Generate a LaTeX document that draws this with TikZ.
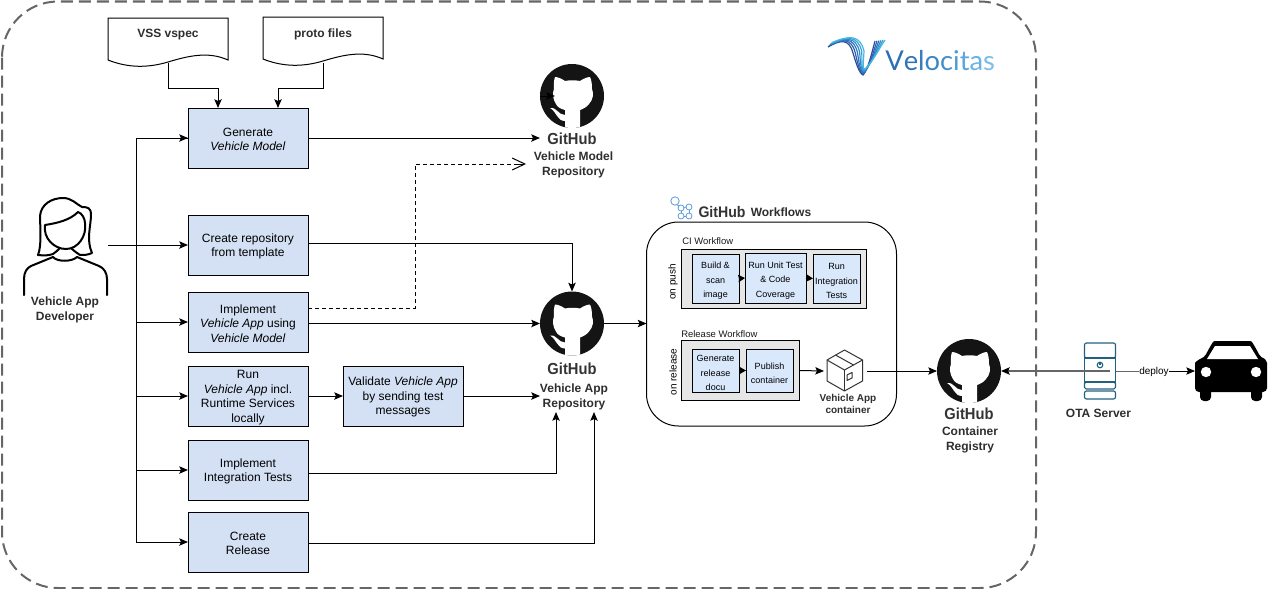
\documentclass[tikz,border=0pt]{standalone}
\usepackage{fontspec}
\setmainfont{Liberation Sans}
\usetikzlibrary{arrows.meta,calc}
\definecolor{boxA}{HTML}{D4E1F5}
\definecolor{boxB}{HTML}{DAE8FC}
\definecolor{grayB}{HTML}{E6E6E6}
\definecolor{edge}{HTML}{666666}
\definecolor{teal}{HTML}{23607F}
\definecolor{wfblue}{HTML}{5C9BD9}
\newcommand{\fl}{\rule{0pt}{8.5pt}}
\newcommand{\flm}{\rule{0pt}{8.8pt}}
\tikzset{
  x=0.75pt,y=-0.75pt,
  arr/.style={-{Stealth[length=6.5pt,width=5.5pt,inset=1.2pt]},line width=0.75pt,black},
  step box/.style={draw=black,line width=0.75pt,fill=boxA,minimum width=90pt,minimum height=45pt,inner sep=0pt,outer sep=0pt,align=center,font=\fontsize{9}{10.9}\selectfont},
  mini box/.style={draw=black,line width=0.75pt,fill=boxB,inner sep=0pt,outer sep=0pt,align=center,font=\fontsize{6.75}{10.9}\selectfont},
  group box/.style={draw=black,line width=0.75pt,fill=grayB,inner sep=0pt,outer sep=0pt},
  big label/.style={align=center,font=\fontsize{9}{11}\bfseries\selectfont,inner sep=0pt,text=black!82},
  small label/.style={align=center,font=\fontsize{7.5}{9.2}\bfseries\selectfont,inner sep=0pt,text=black!82},
  plain small/.style={align=center,font=\fontsize{7.5}{9}\selectfont,inner sep=0pt},
  wf title/.style={anchor=west,inner sep=0pt,font=\fontsize{7.1}{9}\selectfont,text=black!90},
  gh word/.style={inner sep=0pt,font=\fontsize{12}{12}\bfseries\selectfont,text=black!80},
  doc base/.style={minimum width=90pt,minimum height=34pt,inner sep=0pt,outer sep=0pt},
  ghcircle/.style={circle,fill=black!92,minimum size=48pt,inner sep=0pt,outer sep=0pt},
}
\newcommand{\ghlogo}[3]{%
  \node[ghcircle] (#1) at (#2,#3) {};
  \begin{scope}[shift={(#2,#3)}]
    \clip (0,0) circle[radius=32];
    \fill[white] (-7,34) -- (-7,14) .. controls (-11,13) and (-15,11) .. (-16,8)
      .. controls (-19,4) and (-20,-3) .. (-18,-7) .. controls (-18.5,-12) and (-18,-16) .. (-17,-19)
      .. controls (-14,-19) and (-10,-17) .. (-7,-15) .. controls (-2,-16) and (3,-16) .. (8,-15)
      .. controls (11,-17) and (15,-19) .. (18,-19) .. controls (19.5,-16) and (20,-12) .. (20,-7)
      .. controls (22,-3) and (21,4) .. (17,8) .. controls (15,11) and (11,13) .. (8,14) -- (8,34) -- cycle;
    \fill[white] (-22,12) .. controls (-15,11) and (-14,19) .. (-7,19) -- (-7,25)
      .. controls (-15,25) and (-15,16) .. (-22,12) -- cycle;
  \end{scope}
}
\newcommand{\ghword}[3]{\node[gh word] (#1) at (#2,#3) {\scalebox{.92}[1]{GitHub}};}
\newcommand{\docshape}[2]{%
  \begin{scope}[shift={(#1,#2)}]
  \draw[line width=0.75pt,fill=white] (0,0) -- (120,0) -- (120,42)
    .. controls (100,33) and (80,38) .. (60,44)
    .. controls (40,50) and (20,50) .. (0,42) -- cycle;
  \end{scope}
}
\begin{document}
\begin{tikzpicture}
\useasboundingbox (0,0) rectangle (1268,589);
% outer dashed frame
\draw[edge,line width=1.5pt,dash pattern=on 9pt off 4.5pt,rounded corners=42pt] (2,1.5) rectangle (1036,588);

% documents
\docshape{108}{18}
\docshape{263}{17}
\node[doc base] (vss) at (168,40.5) {};
\node[doc base] (proto) at (323,40) {};
\node[big label] (vsst) at (168,35) {VSS vspec};
\node[big label] (protot) at (323,34) {proto files};

% step boxes
\node[step box] (gen)   at (248,138) {\fl Generate\\\textit{Vehicle Model}};
\node[step box] (repo)  at (248,245) {\fl Create repository\\from template};
\node[step box] (impl)  at (248,322) {\fl Implement\\\textit{Vehicle App} using\\\textit{Vehicle Model}};
\node[step box] (runl)  at (248,396) {\fl Run\\\textit{Vehicle App} incl.\\Runtime Services\\locally};
\node[step box] (valid) at (403,396) {\fl Validate \textit{Vehicle App}\\by sending test\\messages};
\node[step box] (intg)  at (248,470) {\fl Implement\\Integration Tests};
\node[step box] (rel)   at (248,542) {\fl Create\\Release};

% developer icon
\coordinate (dev) at (108,245);
\begin{scope}[line width=1.5pt,line join=round,line cap=round]
  \draw (24,295) -- (24,279) .. controls (24,272) and (27,268) .. (31,266) -- (53,257)
    .. controls (57,262) and (72,262) .. (77,257) -- (99,266) .. controls (104,268) and (107,273) .. (107,279) -- (107,295);
  \draw (38,255) .. controls (42,245) and (40,225) .. (40,216)
    .. controls (41,204) and (52,198) .. (63,198) .. controls (72,198) and (76,204) .. (82,207)
    .. controls (88,207) and (91,208) .. (91,215) .. controls (91,225) and (86,240) .. (92,253)
    .. controls (88,255) and (84,255) .. (80,255) .. controls (77,253) and (74,251) .. (71,248);
  \draw (38,255) .. controls (45,256) and (50,255) .. (53,254) .. controls (56,252) and (58,250) .. (60,248);
  \draw (45,225) .. controls (43,238) and (54,249) .. (66,249) .. controls (78,249) and (87,236) .. (85,223)
    .. controls (85,219) and (82,213) .. (78,212) .. controls (70,220) and (58,223) .. (45,225) -- cycle;
\end{scope}
\node[big label] (devl) at (65,310) {Vehicle App\\Developer};

% GitHub logos
\ghlogo{ghmodel}{572}{96}
\ghword{ghmodelw}{572}{139}
\node[big label] (modell) at (573.5,165) {Vehicle Model\\Repository};
\ghlogo{ghapp}{572}{323.5}
\ghword{ghappw}{572}{369}
\node[big label] (appl) at (574,397) {Vehicle App\\Repository};
\ghlogo{ghreg}{969}{371}
\ghword{ghregw}{969}{414}
\node[big label] (regl) at (970,440) {Container\\Registry};

% left bus
\coordinate (bus)  at (136,245);
\draw[line width=0.75pt] (gen.west) -| (136,542);
\draw[line width=0.75pt] (dev) -- (bus);
\draw[arr] (bus |- gen.west) -- (gen.west);
\draw[arr] (bus) -- (repo.west);
\draw[arr] (bus |- impl.west) -- (impl.west);
\draw[arr] (bus |- runl.west) -- (runl.west);
\draw[arr] (bus |- intg.west) -- (intg.west);
\draw[arr] (bus |- rel.west) -- (rel.west);

% connectors to documents and repositories
\draw[arr] (vss.south) -- ++(0,25) -| ([xshift=-22.5pt]gen.north);
\draw[arr] (proto.south) -- ++(0,25.5) -| ([xshift=22.5pt]gen.north);
\coordinate (modelIn) at (540,138);
\draw[arr] (gen.east) -- (modelIn);
\coordinate (modelTail) at (555,96);
\draw[arr] (ghmodel.west) -- (modelTail);
\coordinate (dashStart) at (308,308);
\coordinate (modelDash) at (526,164);
\draw[line width=0.75pt,dash pattern=on 3pt off 2.25pt] (dashStart) -- (415,308) -- (415,164) -- (514,164);
\draw[line width=0.75pt,-{Straight Barb[length=9.5pt,width=9pt]}] (514,164) -- (modelDash);
\draw[arr] ([yshift=1.5pt]repo.east) -| (ghapp.north);
\draw[arr] (impl.east |- ghapp.west) -- (ghapp.west);
\draw[arr] (runl.east) -- (valid.west);
\coordinate (appV) at (540,396);
\draw[arr] (valid.east) -- (appV);
\coordinate (appA) at (556,412);
\coordinate (appB) at (594,412);
\draw[arr] ([yshift=-2.25pt]intg.east) -| (appA);
\draw[arr] ([yshift=-.75pt]rel.east) -| (appB);

% workflows panel
\node[draw=black,line width=0.75pt,fill=white,rounded corners=24pt,minimum width=187.5pt,minimum height=153pt,inner sep=0pt,outer sep=0pt] (wf) at (771.5,324) {};
\draw[arr] (ghapp.east) -- (ghapp.east -| wf.west);
\node[big label] (wft) at (781,212.5) {Workflows};
\node[gh word,font=\fontsize{11.5}{12}\bfseries\selectfont] (wfg) at (722,212) {\scalebox{.92}[1]{GitHub}};
\begin{scope}[wfblue,line width=0.6pt]
  \draw (675,201) circle[radius=4.2];
  \draw (681,208) circle[radius=3];
  \draw (689,207) circle[radius=3];
  \draw (681,216) circle[radius=3];
  \draw (689,216) circle[radius=3];
  \draw (677,205) -- (679,206);
  \draw (684,208) -- (686,207);
  \draw (684,216) -- (686,216);
  \draw (681,211) -- (681,213);
  \draw (689,210) -- (689,213);
\end{scope}

\node[group box,minimum width=138.75pt,minimum height=44.25pt] (ci) at (773.5,278.5) {};
\node[group box,minimum width=88.5pt,minimum height=45pt] (relw) at (740,370) {};
\node[wf title] (cit) at (682,241) {CI Workflow};
\node[wf title] (relt) at (681,334) {Release Workflow};
\node[plain small,rotate=90] (onpush) at (673,282) {on push};
\node[plain small,rotate=90] (onrel) at (673,372) {on release};
\node[mini box,minimum width=35.25pt,minimum height=36.75pt] (build) at (715.5,278.5) {\flm Build \&\\scan\\image};
\node[mini box,minimum width=45.75pt,minimum height=37.5pt] (unit) at (775.5,278) {\flm Run Unit Test\\\& Code\\Coverage};
\node[mini box,minimum width=35.25pt,minimum height=36.75pt] (itest) at (836.5,278.5) {\flm Run\\Integration\\Tests};
\node[mini box,minimum width=35.25pt,minimum height=32.25pt] (docu) at (715.5,370.5) {\flm Generate\\release\\docu};
\node[mini box,minimum width=35.25pt,minimum height=32.25pt] (pub) at (769.5,370.5) {\flm Publish\\container};
\tikzset{tiny arr/.style={-{Stealth[length=5pt,width=5.5pt,inset=0.5pt]},line width=0.75pt}}
\draw[tiny arr] (build.east) -- (unit.west);
\draw[tiny arr] (unit.east) -- (itest.west);
\draw[tiny arr] (docu.east) -- (pub.west);

% package icon
\node[inner sep=0pt,outer sep=0pt,minimum width=27pt,minimum height=31pt] (pkg) at (845,371) {};
\begin{scope}[draw=black!80,line width=0.75pt,line join=round]
  \draw (844.5,350) -- (862.5,360) -- (862.5,381) -- (844.5,391) -- (827,381) -- (827,360) -- cycle;
  \draw (827,360) -- (844.5,370) -- (862.5,360);
  \draw (844.5,370) -- (844.5,391);
  \draw (835.5,355) -- (853.5,365);
  \draw (847,375) -- (852,372.5) -- (852,378) -- (847,380.5) -- cycle;
\end{scope}
\draw[arr] (relw.east) ++(0,.5) -- ([xshift=-2.25pt]pkg.west);
\node[small label] (pkgl) at (848,404) {Vehicle App\\container};
\draw[arr] ([xshift=3pt]pkg.east) -- (ghreg.west);

% OTA server
\node[inner sep=0pt,outer sep=0pt,minimum width=24pt,minimum height=42pt] (ota) at (1100,371) {};
\begin{scope}[draw=teal,line width=0.85pt]
  \draw[rounded corners=1.5pt] (1084.5,358) -- (1084.5,343) -- (1115.5,343) -- (1115.5,358) -- cycle;
  \draw (1084.5,358) rectangle (1115.5,382);
  \draw[rounded corners=1.2pt] (1084.5,382) rectangle (1115.5,389);
  \draw[rounded corners=1.5pt] (1084.5,391) rectangle (1115.5,399);
  \draw (1100,365) circle[radius=2.8];
  \draw (1100,361.5) -- (1100,365);
\end{scope}
\node[big label] (otal) at (1098.5,413.5) {OTA Server};

% car
\coordinate (carW) at (1195,371);
\begin{scope}
  \fill[rounded corners=3pt] (1200,385) rectangle (1211,401);
  \fill[rounded corners=3pt] (1251,385) rectangle (1262,401);
  \fill[rounded corners=3pt] (1195,392) -- (1195,367) .. controls (1195,362) and (1200,359) .. (1204,358)
     -- (1211,345) .. controls (1213,342) and (1215,341) .. (1219,341) -- (1246,341)
     .. controls (1250,341) and (1252,342) .. (1254,345) -- (1261,358) .. controls (1265,359) and (1267,362) .. (1267,367) -- (1267,392) -- cycle;
  \fill[white] (1207,359) -- (1215,346) -- (1250,346) -- (1258,359) -- cycle;
  \fill[white] (1206,372) circle[radius=5.2];
  \fill[white] (1256,372) circle[radius=5.2];
\end{scope}
\coordinate (otaIn) at (1110,371);
\draw[edge,line width=1.1pt,-{Stealth[length=6.5pt,width=5.5pt,inset=1.2pt,color=black]}] (otaIn) -- (ghreg.east);
\coordinate (depJ) at (1150,371);
\draw[line width=0.75pt,edge] (ota.east) -- (depJ);
\draw[arr] (depJ) -- (carW);
\node[plain small,fill=white,inner sep=0.5pt] (dep) at (1154,371.5) {deploy};

% Velocitas logo
\foreach \i/\c in {0/2B4C9B,1/2F5FAE,2/2F74BC,3/2F8AC9,4/35A1D8,5/45B7E4}{
  \definecolor{wc}{HTML}{\c}
  \draw[wc,line width=0.9pt] (828+\i*0.8,47-\i*0.9) .. controls (840+\i*2,40-\i*1) and (849+\i*2.2,38-\i*0.6) .. (853+\i*2.2,53-\i*0.4)
     .. controls (856+\i*1.5,63) and (859+\i*0.6,73-\i*0.6) .. (863+\i*0.4,75-\i*1.2)
     .. controls (868+\i*1.2,70-\i*2) and (872+\i*1.6,52-\i) .. (875+\i*2,41-\i*0.2);
}
\node[inner sep=0pt,font=\fontsize{20.5}{22}\selectfont,anchor=base west] (velo) at (885,70) {\fontspec{Lato}\textcolor[HTML]{2D6FB5}{V}\textcolor[HTML]{2F74B8}{e}\textcolor[HTML]{347CBE}{l}\textcolor[HTML]{3A85C4}{o}\textcolor[HTML]{4390CC}{c}\textcolor[HTML]{4D9AD2}{i}\textcolor[HTML]{5AA6DC}{t}\textcolor[HTML]{6AB2E2}{a}\textcolor[HTML]{7CBEEA}{s}};
\end{tikzpicture}
\end{document}
